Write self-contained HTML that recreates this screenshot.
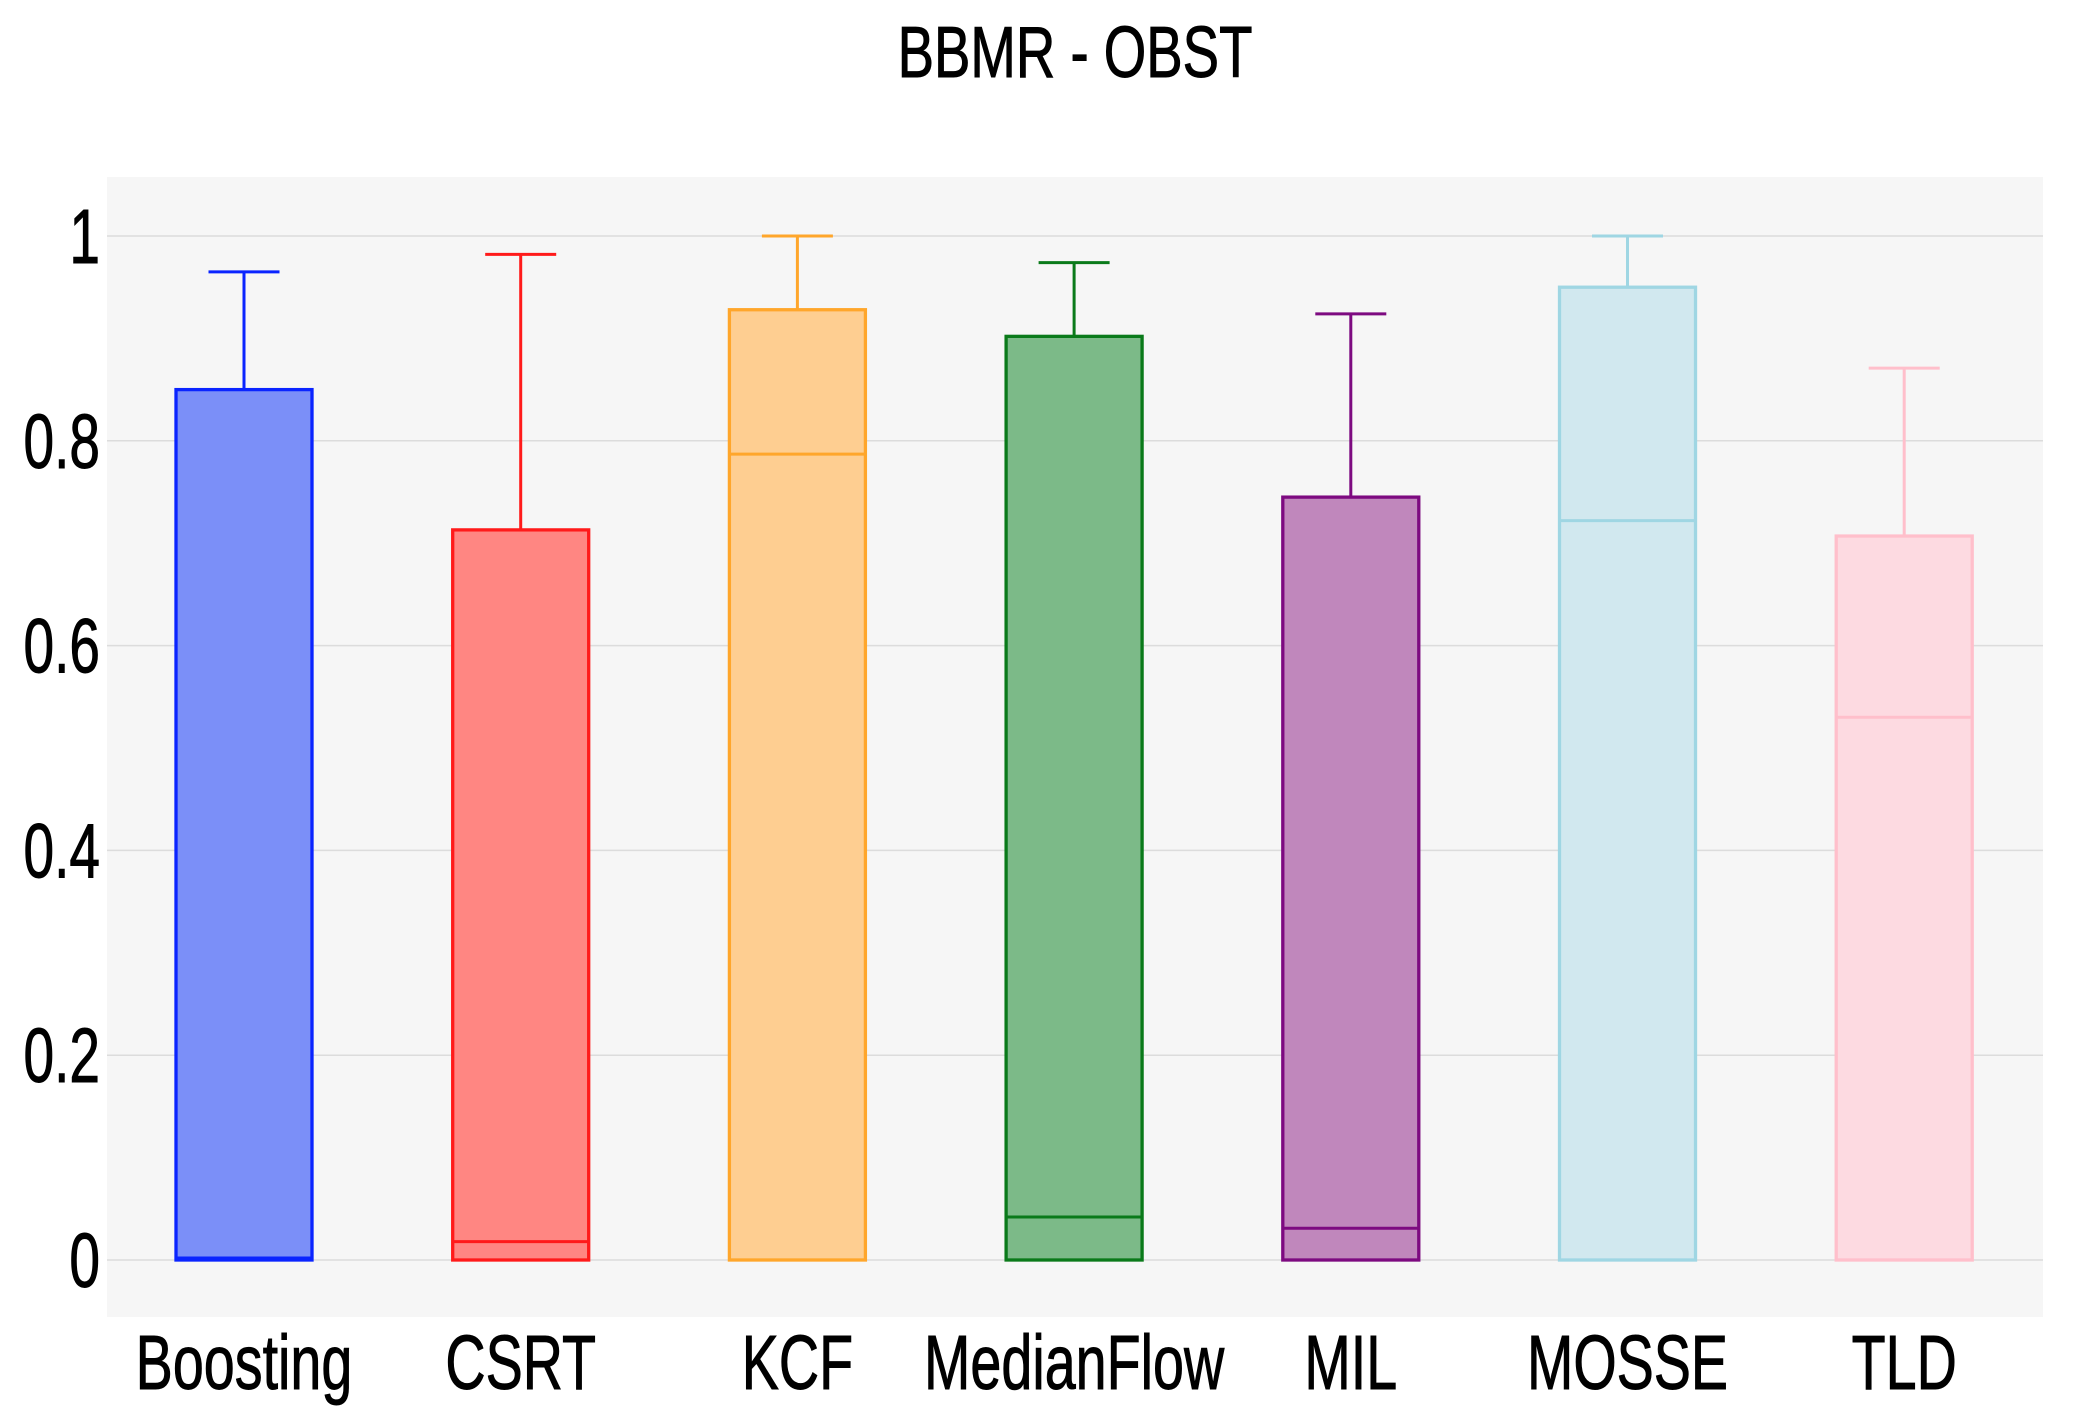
<!DOCTYPE html>
<html><head><meta charset="utf-8"><style>
html,body{margin:0;padding:0;background:#fff;}
svg{display:block;}
text{font-family:"Liberation Sans Narrow","Liberation Sans",sans-serif;fill:#000;stroke:#000;stroke-width:0.8;}
</style></head><body>
<svg id="chart" width="2089" height="1425" viewBox="0 0 2089 1425" xmlns="http://www.w3.org/2000/svg">
<rect x="107" y="177" width="1936" height="1140" fill="#f6f6f6"/>
<g id="grid"></g>
<g id="boxes"></g>
<g id="labels"></g>
<text x="0" y="0" text-anchor="middle" font-size="60" transform="translate(1075,77) scale(0.91,1.2)">BBMR - OBST</text>
</svg>
<script>
const categories=["Boosting","CSRT","KCF","MedianFlow","MIL","MOSSE","TLD"];
const lowerWhisker=[0,0,0,0,0,0,0];
const q1Values=[0,0,0,0,0,0,0];
const medianValues=[0.002,0.018,0.787,0.042,0.031,0.722,0.530];
const q3Values=[0.85,0.713,0.928,0.902,0.745,0.95,0.707];
const upperWhisker=[0.965,0.982,1.0,0.974,0.924,1.0,0.871];
const yTicks=[0,0.2,0.4,0.6,0.8,1];
const yTickLabels=["0","0.2","0.4","0.6","0.8","1"];
const strokes=["#0a24ff","#ff1a1a","#ffa62b","#0a7a1a","#7d0a80","#9fd6e3","#ffbfcb"];
const fills=["#7b8ff8","#ff8682","#fece91","#7cba88","#c087bc","#d1e8ef","#fddae1"];
const NS="http://www.w3.org/2000/svg";
const y=v=>1260-v*1024;
const x=i=>244+i*276.7;
function mk(tag,attrs,parent){const e=document.createElementNS(NS,tag);for(const k in attrs)e.setAttribute(k,attrs[k]);parent.appendChild(e);return e;}
const grid=document.getElementById('grid'),boxes=document.getElementById('boxes'),labels=document.getElementById('labels');
yTicks.forEach((t,i)=>{
 const l=mk('line',{x1:107,x2:2043,y1:y(t),y2:y(t),stroke:'#dcdcdc','stroke-width':1.5},grid);
 
 
 const tx=mk('text',{x:0,y:0,'text-anchor':'end','font-size':64,transform:'translate(100,'+(y(t)+27)+') scale(0.86,1.2)'},labels);
 
 
 tx.textContent=yTickLabels[i];
});
const bw=136,cw=71;
categories.forEach((c,i)=>{
 const g=mk('g',{},boxes);
 
 
 const cx=x(i),s=strokes[i];
 mk('line',{x1:cx,x2:cx,y1:y(q3Values[i]),y2:y(upperWhisker[i]),stroke:s,'stroke-width':3},g);
 mk('line',{x1:cx-cw/2,x2:cx+cw/2,y1:y(upperWhisker[i]),y2:y(upperWhisker[i]),stroke:s,'stroke-width':3},g);
 mk('line',{x1:cx,x2:cx,y1:y(q1Values[i]),y2:y(lowerWhisker[i]),stroke:s,'stroke-width':3},g);
 mk('rect',{x:cx-bw/2,y:y(q3Values[i]),width:bw,height:y(q1Values[i])-y(q3Values[i]),fill:fills[i],stroke:s,'stroke-width':3.3},g);
 mk('line',{x1:cx-bw/2,x2:cx+bw/2,y1:y(medianValues[i]),y2:y(medianValues[i]),stroke:s,'stroke-width':3},g);
 const tx=mk('text',{x:0,y:0,'text-anchor':'middle','font-size':64,transform:'translate('+cx+',1389) scale(0.87,1.2)'},labels);
 
 
 tx.textContent=c;
});
</script>
</body></html>
